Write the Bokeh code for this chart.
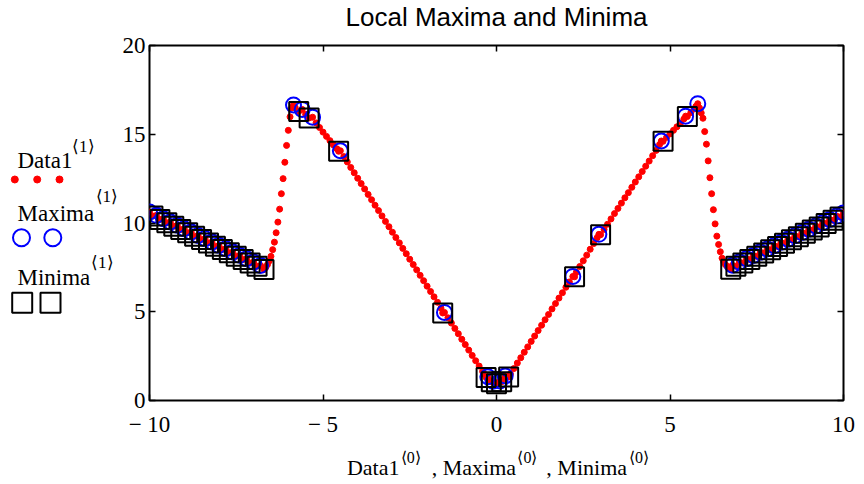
from bokeh.plotting import figure
from bokeh.models import Range1d, LinearAxis, FixedTicker, CustomJSTickFormatter
from bokeh.layouts import row, column
from bokeh.embed import file_html
from bokeh.resources import INLINE
from bokeh.core.properties import value

# ---------------- data ----------------
data1_x = [
    -10.0, -9.9, -9.8, -9.7, -9.6, -9.5, -9.4, -9.3, -9.2, -9.1, -9.0, -8.9, -8.8, -8.7, -8.6, -8.5, -8.4,
    -8.3, -8.2, -8.1, -8.0, -7.9, -7.8, -7.7, -7.6, -7.5, -7.4, -7.3, -7.2, -7.1, -7.0, -6.9, -6.8, -6.7,
    -6.65, -6.6, -6.55, -6.5, -6.45, -6.4, -6.35, -6.3, -6.25, -6.2, -6.15, -6.1, -6.05, -6.0, -5.95, -5.9, -5.85,
    -5.8, -5.7, -5.6, -5.5, -5.4, -5.3, -5.2, -5.1, -5.0, -4.9, -4.8, -4.7, -4.6, -4.55, -4.5, -4.4, -4.3, -4.2,
    -4.1, -4.0, -3.9, -3.8, -3.7, -3.6, -3.5, -3.4, -3.3, -3.2, -3.1, -3.0, -2.9, -2.8, -2.7, -2.6, -2.5, -2.4,
    -2.3, -2.2, -2.1, -2.0, -1.9, -1.8, -1.7, -1.6, -1.55, -1.5, -1.4, -1.3, -1.2, -1.1, -1.0, -0.9, -0.8, -0.7,
    -0.6, -0.5, -0.4,
    -0.35, -0.3, -0.25, -0.2, -0.15, -0.1, -0.05, 0.0, 0.05, 0.1, 0.15, 0.2, 0.25, 0.3, 0.35,
    0.4, 0.5, 0.6, 0.7, 0.8, 0.9, 1.0, 1.1, 1.2, 1.3, 1.4, 1.5, 1.6, 1.7, 1.8, 1.9, 2.0, 2.1, 2.2, 2.25, 2.3,
    2.4, 2.5, 2.6, 2.7, 2.8, 2.9, 2.95, 3.0, 3.1, 3.2, 3.3, 3.4, 3.5, 3.6, 3.7, 3.8, 3.9, 4.0, 4.1, 4.2, 4.3,
    4.4, 4.5, 4.6, 4.7, 4.75, 4.8, 4.9, 5.0, 5.1, 5.2, 5.3, 5.4, 5.45, 5.5, 5.6, 5.7, 5.75, 5.8,
    5.85, 5.9, 5.95, 6.0, 6.05, 6.1, 6.15, 6.2, 6.25, 6.3, 6.35, 6.4, 6.45, 6.5, 6.55, 6.6, 6.65, 6.7, 6.75,
    6.8, 6.9, 7.0, 7.1, 7.2, 7.3, 7.4, 7.5, 7.6, 7.7, 7.8, 7.9, 8.0, 8.1, 8.2, 8.3, 8.4, 8.5, 8.6, 8.7, 8.8,
    8.9, 9.0, 9.1, 9.2, 9.3, 9.4, 9.5, 9.6, 9.7, 9.8, 9.9, 10.0,
]
data1_y = [
    10.62, 10.39, 10.43, 10.20, 10.24, 10.01, 10.06, 9.82, 9.87, 9.63, 9.68, 9.45, 9.49, 9.26, 9.30, 9.07, 9.12,
    8.88, 8.93, 8.69, 8.74, 8.51, 8.55, 8.32, 8.36, 8.13, 8.18, 7.94, 7.99, 7.75, 7.80, 7.57, 7.61, 7.38,
    7.50, 7.66, 7.86, 8.12, 8.50, 8.92, 9.45, 10.05, 10.78, 11.65, 12.50, 13.42, 14.37, 15.22, 15.98, 16.48, 16.65,
    16.50, 16.28, 16.40, 16.12, 15.92, 15.96, 15.64, 15.38, 15.12, 14.88, 14.64, 14.40, 14.18, 14.04, 14.07, 13.74,
    13.44, 13.13, 12.83, 12.52, 12.22, 11.92, 11.61, 11.31, 11.00, 10.70, 10.40, 10.09, 9.79, 9.48, 9.18, 8.88,
    8.57, 8.27, 7.96, 7.66, 7.36, 7.05, 6.75, 6.44, 6.14, 5.84, 5.53, 5.20, 4.93, 4.96, 4.66, 4.36, 4.06, 3.76,
    3.45, 3.15, 2.84, 2.54, 2.24, 1.94, 1.64,
    1.48, 1.30, 1.34, 1.14, 1.05, 1.09, 0.99, 0.95, 1.02, 1.10, 1.06, 1.18, 1.38, 1.36, 1.33,
    1.50, 1.80, 2.11, 2.41, 2.72, 3.02, 3.33, 3.63, 3.94, 4.24, 4.55, 4.85, 5.16, 5.46, 5.77, 6.07, 6.38, 6.68,
    6.99, 6.97, 7.22, 7.55, 7.87, 8.19, 8.52, 8.84, 9.17, 9.36, 9.34, 9.64, 9.93, 10.23, 10.53, 10.82, 11.12,
    11.42, 11.71, 12.01, 12.31, 12.60, 12.90, 13.20, 13.49, 13.79, 14.09, 14.42, 14.62, 14.60, 14.82, 15.02,
    15.22, 15.42, 15.62, 15.86, 16.02, 16.00, 16.22, 16.44, 16.58, 16.72,
    16.48, 16.20, 15.90, 15.15, 14.44, 13.50, 12.55, 11.65, 10.75, 9.95, 9.26, 8.79, 8.38, 8.02, 7.80, 7.65,
    7.55, 7.48, 7.40,
    7.62, 7.57, 7.80, 7.75, 7.99, 7.94, 8.17, 8.12, 8.36, 8.31, 8.54, 8.49, 8.72, 8.68, 8.91, 8.86, 9.09, 9.05,
    9.28, 9.23, 9.46, 9.42, 9.65, 9.60, 9.83, 9.78, 10.02, 9.97, 10.20, 10.15, 10.39, 10.34, 10.57,
]

maxima_x = [
    -10.0, -9.8, -9.6, -9.4, -9.2, -9.0, -8.8, -8.6, -8.4, -8.2, -8.0, -7.8, -7.6, -7.4, -7.2, -7.0, -6.8,
    -5.85, -5.6, -5.3, -4.5, -1.5,
    -0.25, -0.1, 0.1, 0.25,
    2.2, 2.95, 4.75, 5.45, 5.8,
    6.8, 7.0, 7.2, 7.4, 7.6, 7.8, 8.0, 8.2, 8.4, 8.6, 8.8, 9.0, 9.2, 9.4, 9.6, 9.8, 10.0,
]
maxima_y = [
    10.62, 10.43, 10.24, 10.06, 9.87, 9.68, 9.49, 9.30, 9.12, 8.93, 8.74, 8.55, 8.36, 8.18, 7.99, 7.80, 7.61,
    16.65, 16.40, 15.96, 14.07, 4.96,
    1.34, 1.09, 1.10, 1.38,
    6.99, 9.36, 14.62, 16.02, 16.72,
    7.62, 7.80, 7.99, 8.17, 8.36, 8.54, 8.72, 8.91, 9.09, 9.28, 9.46, 9.65, 9.83, 10.02, 10.20, 10.39, 10.57,
]

minima_x = [
    -9.9, -9.7, -9.5, -9.3, -9.1, -8.9, -8.7, -8.5, -8.3, -8.1, -7.9, -7.7, -7.5, -7.3, -7.1, -6.9, -6.7,
    -5.7, -5.4, -4.55, -1.55,
    -0.3, -0.15, 0.0, 0.15, 0.35,
    2.25, 3.0, 4.8, 5.5,
    6.75, 6.9, 7.1, 7.3, 7.5, 7.7, 7.9, 8.1, 8.3, 8.5, 8.7, 8.9, 9.1, 9.3, 9.5, 9.7, 9.9,
]
minima_y = [
    10.39, 10.20, 10.01, 9.82, 9.63, 9.45, 9.26, 9.07, 8.88, 8.69, 8.51, 8.32, 8.13, 7.94, 7.75, 7.57, 7.38,
    16.28, 15.92, 14.04, 4.93,
    1.30, 1.05, 0.95, 1.06, 1.33,
    6.97, 9.34, 14.60, 16.00,
    7.40, 7.57, 7.75, 7.94, 8.12, 8.31, 8.49, 8.68, 8.86, 9.05, 9.23, 9.42, 9.60, 9.78, 9.97, 10.15, 10.34,
]

x_ticks = [-10, -5, 0, 5, 10]
y_ticks = [0, 5, 10, 15, 20]

title_text = "Local Maxima and Minima"
legend_names = ["Data1", "Maxima", "Minima"]
legend_sup = "\u27e81\u27e9"
xtitle_main = ["Data1", ", Maxima", ", Minima"]
xtitle_sup = ["\u27e80\u27e9", "\u27e80\u27e9", "\u27e80\u27e9"]

SERIF = "Liberation Serif"
SANS = "Liberation Sans"

LEG_W = 119
MAIN_W = 28 + 696 + 14
TT_H = 31
MAIN_H = 14 + 355 + 40
XT_H = 44


def strip(height):
    f = figure(width=MAIN_W, height=height, x_range=Range1d(147, 843), y_range=Range1d(height, 0),
               output_backend="svg", toolbar_location=None, x_axis_type=None, y_axis_type=None,
               min_border=0, min_border_left=28, min_border_right=14, outline_line_color=None)
    f.background_fill_color = "white"
    f.border_fill_color = "white"
    return f


# ---------------- title strip (page-pixel x, frame aligned with the plot) ----------------
tt = strip(TT_H)
tt.text(x=[495], y=[16.5], text=[title_text], text_font=value(SANS), text_font_size="26px",
        text_color="black", text_baseline="middle", text_align="center")

# ---------------- main plot ----------------
p = figure(width=MAIN_W, height=MAIN_H, x_range=Range1d(-10, 10), y_range=Range1d(0, 20),
           output_backend="svg", toolbar_location=None,
           min_border_left=28, min_border_right=14, min_border_top=14, min_border_bottom=40)
p.background_fill_color = "white"
p.border_fill_color = "white"
p.outline_line_color = "black"
p.outline_line_width = 2
p.grid.visible = False

minus_fmt = CustomJSTickFormatter(code="return tick < 0 ? '\\u2212 ' + Math.abs(tick) : String(tick);")

p.xaxis.ticker = FixedTicker(ticks=x_ticks)
p.yaxis.ticker = FixedTicker(ticks=y_ticks)
p.xaxis.formatter = minus_fmt
for ax in (p.xaxis[0], p.yaxis[0]):
    ax.major_label_text_font = SERIF
    ax.major_label_text_font_size = "23px"
    ax.major_label_text_color = "black"
    ax.major_tick_in = 6
    ax.major_tick_out = 0
    ax.major_tick_line_width = 1.5
    ax.major_tick_line_color = "black"
    ax.minor_tick_line_color = None
    ax.axis_line_color = None
p.xaxis.major_label_standoff = 11
p.yaxis.major_label_standoff = 4

empty_fmt = CustomJSTickFormatter(code="return '';")
ax_r = LinearAxis(ticker=FixedTicker(ticks=y_ticks), formatter=empty_fmt,
                  major_label_text_font_size="0px", major_label_standoff=0,
                  major_tick_in=6, major_tick_out=0, major_tick_line_width=1.5,
                  minor_tick_line_color=None, axis_line_color=None)
ax_t = LinearAxis(ticker=FixedTicker(ticks=x_ticks), formatter=empty_fmt,
                  major_label_text_font_size="0px", major_label_standoff=0,
                  major_tick_in=6, major_tick_out=0, major_tick_line_width=1.5,
                  minor_tick_line_color=None, axis_line_color=None)
p.add_layout(ax_r, "right")
p.add_layout(ax_t, "above")

p.scatter(data1_x, data1_y, marker="circle", size=6, fill_color="red", line_color="red")
p.scatter(maxima_x, maxima_y, marker="circle", size=15, fill_color=None,
          line_color="blue", line_width=2)
p.scatter(minima_x, minima_y, marker="square", size=19, fill_color=None,
          line_color="black", line_width=2)

# ---------------- x-axis title strip ----------------
xt = strip(XT_H)
xt.text(x=[345, 430, 545], y=[27, 27, 27], text=xtitle_main, text_font=value(SERIF),
        text_font_size="22px", text_color="black", text_baseline="middle", text_align="left")
xt.text(x=[399, 516, 628], y=[17, 17, 17], text=xtitle_sup, text_font=value(SERIF),
        text_font_size="16px", text_color="black", text_baseline="middle", text_align="left")

# ---------------- legend panel (pixel coordinates) ----------------
LEG_H = TT_H + MAIN_H + XT_H
leg = figure(width=LEG_W, height=LEG_H, x_range=Range1d(0, LEG_W), y_range=Range1d(LEG_H, 0),
             output_backend="svg", toolbar_location=None, x_axis_type=None, y_axis_type=None,
             min_border=0, outline_line_color=None)
leg.background_fill_color = "white"
leg.border_fill_color = "white"

leg.text(x=[17, 17, 17], y=[160, 213, 277], text=legend_names, text_font=value(SERIF),
         text_font_size="23px", text_color="black", text_baseline="middle", text_align="left")
leg.text(x=[71.5, 95, 90.5], y=[146, 196, 262], text=[legend_sup] * 3, text_font=value(SERIF),
         text_font_size="17px", text_color="black", text_baseline="middle", text_align="left")
leg.scatter([14.3, 36.7, 59], [179, 179, 179], marker="circle", size=7,
            fill_color="red", line_color="red")
leg.scatter([21, 52.3], [237.3, 237.3], marker="circle", size=17, fill_color=None,
            line_color="blue", line_width=2)
leg.scatter([21.7, 50], [302.3, 302.3], marker="square", size=20, fill_color=None,
            line_color="black", line_width=2)

layout = row(leg, column(tt, p, xt))
open("out.html", "w").write(file_html(layout, INLINE))
